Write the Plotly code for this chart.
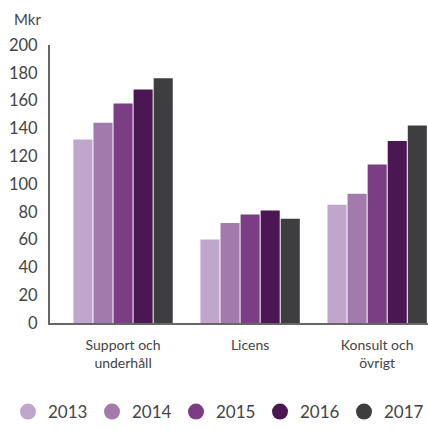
import plotly.graph_objects as go

# Data
kategorier = ["Support och<br>underhåll", "Licens", "Konsult och<br>övrigt"]
ar = ["2013", "2014", "2015", "2016", "2017"]
v2013 = [132, 60, 85]
v2014 = [144, 72, 93]
v2015 = [158, 78, 114]
v2016 = [168, 81, 131]
v2017 = [176, 75, 142]
farger = ["#c0a6cb", "#a27aab", "#7b3d84", "#4a1753", "#3e3e40"]

serier = [v2013, v2014, v2015, v2016, v2017]
textfarg = "#444444"

fig = go.Figure()
for namn, varden, farg in zip(ar, serier, farger):
    fig.add_trace(go.Bar(x=kategorier, y=varden, name=namn,
                         marker=dict(color=farg, line=dict(width=0)),
                         showlegend=False))
# legend med runda symboler
for namn, farg in zip(ar, farger):
    fig.add_trace(go.Scatter(x=[None], y=[None], mode="markers", name=namn,
                             marker=dict(color=farg, size=19, symbol="circle")))

fig.update_layout(
    width=428, height=430,
    margin=dict(l=0, r=0, t=45, b=107),
    paper_bgcolor="white", plot_bgcolor="white",
    barmode="group", bargap=0.21, bargroupgap=0.05,
    font=dict(family="Lato, sans-serif", color=textfarg, size=16),
    xaxis=dict(domain=[50 / 428, 1], range=[-0.575, 2.4], showgrid=False,
               showline=True, linecolor="#666666", linewidth=2,
               tickfont=dict(size=14), ticks="outside", ticklen=8,
               tickcolor="rgba(0,0,0,0)", automargin=False),
    yaxis=dict(range=[0, 200], dtick=20, showgrid=False, showline=True,
               linecolor="#666666", linewidth=2, zeroline=False,
               ticks="outside", ticklen=7, tickcolor="rgba(0,0,0,0)",
               tickfont=dict(size=16.5), automargin=False),
    legend=dict(orientation="h", x=15 / 428, xanchor="left",
                yref="container", y=-0.022, yanchor="bottom",
                font=dict(size=17), itemwidth=30, entrywidth=39,
                tracegroupgap=0),
    annotations=[dict(text="Mkr", x=12 / 428, y=1, xref="paper", yref="paper",
                      xanchor="left", yanchor="bottom", yshift=15,
                      showarrow=False, font=dict(size=15))],
)

# ta bort sidans standardmarginal
fig.write_html("out.html", config={"displayModeBar": False},
               post_script="document.body.style.margin='0';")
